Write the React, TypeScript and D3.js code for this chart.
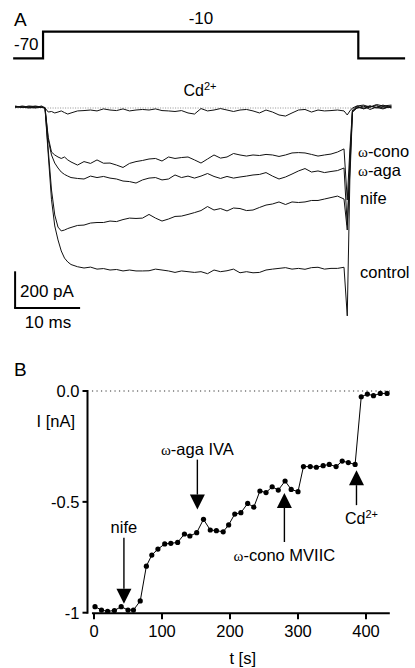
import React from 'react';
import * as d3 from 'd3';

// ---------- Panel A: current traces (time in ms, current in pA) ----------
const traceTimes = [-4.6, -3.5, -2.5, -1.5, -0.5, 0, 0.5, 1, 1.5, 2, 2.5, 3, 3.5, 4, 5, 6, 7, 8, 9, 10, 11, 12, 13, 14, 15, 16, 17, 18, 19, 20, 21, 22, 23, 24, 25, 26, 27, 28, 29, 30, 31, 32, 33, 34, 35, 36, 37, 38, 39, 40, 41, 42, 43, 44, 45, 46, 46.5, 46.9, 47.3, 48, 49, 50, 51, 52, 53.3];

const controlTrace = [8, 3, 8, 5, 3, 0, -255, -500, -643, -719, -779, -818, -839, -853, -865, -872, -867, -878, -875, -883, -880, -888, -883, -888, -888, -887, -878, -883, -888, -896, -888, -892, -896, -892, -903, -883, -892, -887, -878, -898, -892, -898, -896, -883, -878, -874, -870, -878, -874, -879, -870, -868, -878, -874, -874, -868, -1133, -392, -22, 0, 5, 11, 0, 8, 3];

const nifeTrace = [3, 11, 5, 0, 5, 0, -229, -447, -583, -649, -670, -665, -657, -651, -640, -638, -627, -624, -624, -616, -619, -608, -600, -602, -600, -580, -600, -616, -605, -591, -589, -580, -570, -559, -537, -556, -548, -561, -545, -548, -559, -556, -542, -529, -523, -512, -526, -512, -515, -512, -504, -504, -496, -488, -480, -496, -665, -338, -22, 5, -3, 11, 3, -5, 11];

const agaTrace = [8, 5, 0, 3, 11, 0, -174, -256, -300, -327, -349, -362, -371, -379, -384, -387, -371, -379, -373, -382, -387, -398, -401, -409, -392, -382, -379, -392, -387, -365, -379, -371, -382, -371, -357, -373, -384, -373, -382, -376, -371, -365, -362, -352, -371, -387, -376, -360, -343, -330, -349, -343, -352, -346, -341, -327, -638, -283, -16, 0, 11, -8, 5, 16, 0];

const conoTrace = [5, 8, 3, 11, 5, 3, -160, -240, -256, -267, -275, -267, -283, -294, -311, -292, -302, -283, -301, -300, -311, -324, -302, -292, -286, -278, -275, -289, -267, -275, -270, -267, -283, -300, -278, -256, -273, -267, -248, -256, -262, -256, -259, -253, -256, -264, -256, -245, -243, -245, -253, -262, -256, -251, -240, -223, -501, -229, -11, 11, -5, 5, 14, 0, 8];

const cdTrace = [11, 3, 11, 8, 5, 0, -22, -19, -27, -22, -16, -25, -33, -27, -16, -14, -11, -16, -5, -11, -14, -5, -16, -11, -8, -11, -5, -14, -16, -19, -14, -27, -33, -3, -16, -11, -3, -11, -19, -11, -8, -16, -27, -11, -22, -38, -44, -27, -11, -8, -22, -11, -16, -14, -11, -16, -38, -16, 0, 11, 16, 5, 19, 11, 16];

const voltageTimes = [-4.9, -0.3, -0.3, 48.2, 48.2, 55.4];
const voltageValues = [-70, -70, -10, -10, -70, -70];

// ---------- Panel B: time course ----------
const tcTime = [1.5, 11, 20, 30, 40, 50, 58, 68, 77, 85, 94, 104, 113, 123, 133, 141, 151, 161, 171, 180, 190, 198, 207, 216, 226, 235, 244, 253, 262, 271, 281, 290, 300, 308, 318, 327, 337, 346, 356, 365, 374, 384, 393, 402, 411, 421, 431];
const tcCurrent = [-0.973, -0.988, -0.994, -0.99, -0.973, -0.988, -0.988, -0.947, -0.79, -0.74, -0.713, -0.69, -0.687, -0.683, -0.645, -0.654, -0.639, -0.579, -0.627, -0.63, -0.635, -0.604, -0.555, -0.549, -0.507, -0.524, -0.451, -0.458, -0.432, -0.447, -0.406, -0.444, -0.454, -0.341, -0.341, -0.344, -0.337, -0.331, -0.341, -0.316, -0.323, -0.331, -0.026, -0.014, -0.021, -0.011, -0.011];

const xTicksB = [0, 100, 200, 300, 400];
const yTicksB = [0, -0.5, -1];
const yTickLabelsB = ['0.0', '-0.5', '-1'];

const drugNames = ['nife', 'aga IVA', 'cono MVIIC', 'Cd'];
const drugTimes = [44, 152, 280, 386];
const drugTipCurrent = [-0.96, -0.535, -0.46, -0.357];

// layout
const drugDown = [true, true, false, false];
const drugStem = [66, 50, 49, 35];
const drugOmega = [false, true, true, false];

export default function App() {
  const font = "'Liberation Sans', Arial, Helvetica, sans-serif";
  const serif = "'Liberation Serif', 'Times New Roman', serif";

  // Panel A scales
  const tx = d3.scaleLinear().domain([0, 10]).range([45, 110]);
  const iy = d3.scaleLinear().domain([0, -200]).range([108, 144.7]);
  const vy = d3.scaleLinear().domain([-70, -10]).range([58.3, 31.7]);

  const traceLine = (vals: number[]) =>
    d3.line<number>().x((_, i) => tx(traceTimes[i])).y((d) => iy(d))(vals) || '';
  const vPath = d3.line<number>().x((_, i) => tx(voltageTimes[i])).y((d) => vy(d))(voltageValues) || '';

  // Panel B scales
  const bx = d3.scaleLinear().domain([0, 400]).range([94, 366]);
  const by = d3.scaleLinear().domain([0, -1]).range([391, 612.7]);
  const tcPath = d3.line<number>().x((_, i) => bx(tcTime[i])).y((d) => by(d))(tcCurrent) || '';

  const axisY = by(-1) + 0.6;
  const yAxisX = 87.5;

  const traces = [cdTrace, conoTrace, agaTrace, nifeTrace, controlTrace];

  return (
    <svg width={415} height={668} style={{ position: 'absolute', left: 0, top: 0, background: '#fff' }} fontFamily={font}>
      <rect x={0} y={0} width={415} height={668} fill="#fff" />
      {/* Panel A */}
      <text x={14} y={26} fontSize={19}>A</text>
      <path d={vPath} fill="none" stroke="#000" strokeWidth={2.2} />
      <text x={tx(24)} y={24} fontSize={17} textAnchor="middle">-10</text>
      <text x={14} y={49.5} fontSize={17}>-70</text>

      <text x={200} y={96} fontSize={16} textAnchor="middle">
        Cd<tspan fontSize={11} dy={-6}>2+</tspan>
      </text>

      <line x1={tx(-4.6)} x2={tx(53.3)} y1={iy(0)} y2={iy(0)} stroke="#777" strokeWidth={0.8} strokeDasharray="1,1.5" />
      {traces.map((tr, i) => (
        <path key={i} d={traceLine(tr)} fill="none" stroke="#111" strokeWidth={1} strokeLinejoin="round" />
      ))}

      <text x={358} y={157} fontSize={16.5}>
        <tspan fontFamily={serif} fontSize={15}>ω</tspan>-cono
      </text>
      <text x={358} y={175.5} fontSize={16.5}>
        <tspan fontFamily={serif} fontSize={15}>ω</tspan>-aga
      </text>
      <text x={360} y={204} fontSize={16.5}>nife</text>
      <text x={360} y={278} fontSize={16.5}>control</text>

      {/* scale bars */}
      <line x1={tx(-4.6)} x2={tx(-4.6)} y1={iy(-890)} y2={iy(-1090)} stroke="#000" strokeWidth={2} />
      <line x1={tx(-4.6) - 1} x2={tx(5.4)} y1={iy(-1090)} y2={iy(-1090)} stroke="#000" strokeWidth={2} />
      <text x={20} y={296.7} fontSize={17}>200 pA</text>
      <text x={48} y={328} fontSize={17} textAnchor="middle">10 ms</text>

      {/* Panel B */}
      <text x={14} y={375.5} fontSize={19}>B</text>
      <line x1={bx(-3)} x2={bx(435)} y1={by(0)} y2={by(0)} stroke="#333" strokeWidth={1} strokeDasharray="1.2,3.3" />

      {/* y axis */}
      <line x1={yAxisX} x2={yAxisX} y1={by(0) - 1} y2={by(-1) + 1} stroke="#000" strokeWidth={2} />
      {yTicksB.map((v, i) => (
        <g key={i}>
          <line x1={yAxisX - 5} x2={yAxisX} y1={by(v)} y2={by(v)} stroke="#000" strokeWidth={2} />
          <text x={79.5} y={by(v) + 6} fontSize={16.5} textAnchor="end">{yTickLabelsB[i]}</text>
        </g>
      ))}
      <text x={75} y={426.7} fontSize={16.5} textAnchor="end">I [nA]</text>

      {/* x axis */}
      <line x1={bx(-3)} x2={bx(435)} y1={axisY} y2={axisY} stroke="#000" strokeWidth={2} />
      {xTicksB.map((v) => (
        <g key={v}>
          <line x1={bx(v)} x2={bx(v)} y1={axisY} y2={axisY + 6} stroke="#000" strokeWidth={2} />
          <text x={bx(v)} y={636.7} fontSize={16.5} textAnchor="middle">{v}</text>
        </g>
      ))}
      <text x={242.7} y={663.5} fontSize={16.5} textAnchor="middle">t [s]</text>

      {/* data */}
      <path d={tcPath} fill="none" stroke="#000" strokeWidth={1} />
      {tcCurrent.map((v, i) => (
        <circle key={i} cx={bx(tcTime[i])} cy={by(v)} r={2.6} fill="#000" />
      ))}

      {/* drug application arrows */}
      {drugNames.map((name, i) => {
        const x = bx(drugTimes[i]);
        const tip = by(drugTipCurrent[i]);
        const head = 15;
        const hw = 7.5;
        const down = drugDown[i];
        const sgn = down ? -1 : 1;
        const stemEnd = tip + sgn * drugStem[i];
        const headBase = tip + sgn * head;
        const labelY = down ? stemEnd - 5 : stemEnd + 19;
        const isCd = name === 'Cd';
        return (
          <g key={i}>
            <line x1={x} x2={x} y1={stemEnd} y2={headBase} stroke="#000" strokeWidth={1.4} />
            <path d={`M${x},${tip} L${x - hw},${headBase} L${x + hw},${headBase} Z`} fill="#000" />
            <text x={isCd ? x + 5 : x} y={labelY} fontSize={isCd ? 16 : 16.5} textAnchor="middle">
              {drugOmega[i] ? <tspan fontFamily={serif} fontSize={15}>ω</tspan> : null}
              {drugOmega[i] ? '-' + name : name}
              {isCd ? <tspan fontSize={11} dy={-6}>2+</tspan> : null}
            </text>
          </g>
        );
      })}
    </svg>
  );
}
